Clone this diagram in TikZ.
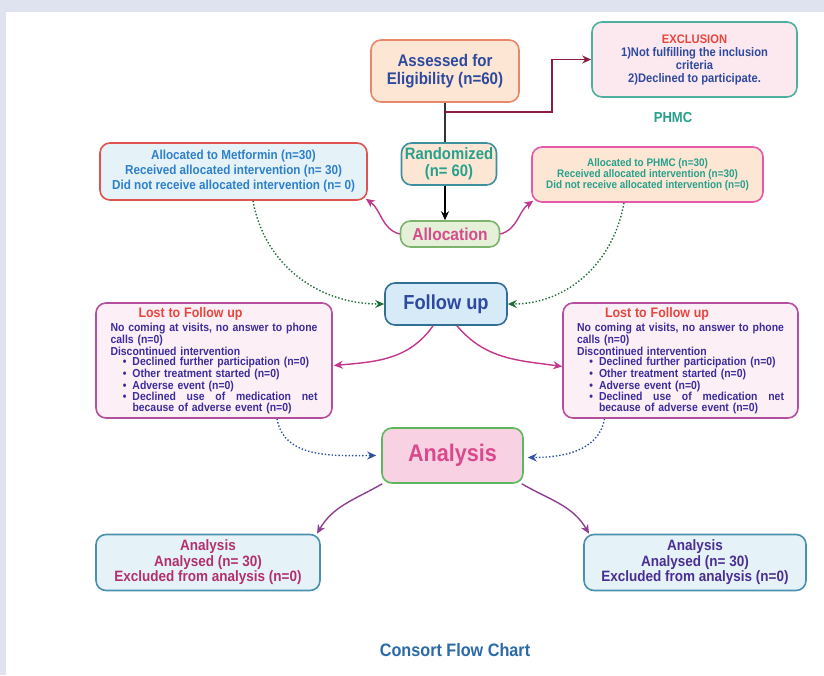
\documentclass[tikz,border=0pt]{standalone}
\usepackage{fontspec}
\setmainfont{Liberation Sans}[FakeStretch=0.9]
\usetikzlibrary{arrows.meta,calc}
\definecolor{bgl}{HTML}{DFE3EF}
\definecolor{peach}{HTML}{FDE6D3}
\definecolor{salmon}{HTML}{E8876B}
\definecolor{dblue}{HTML}{2E4A9E}
\definecolor{exfill}{HTML}{FCE8EF}
\definecolor{teal}{HTML}{4FB0A0}
\definecolor{redt}{HTML}{E8453C}
\definecolor{tealt}{HTML}{27A08C}
\definecolor{dred}{HTML}{8C1D40}
\definecolor{gfill}{HTML}{E4F1D8}
\definecolor{gborder}{HTML}{7DB46C}
\definecolor{pinkt}{HTML}{D9498D}
\definecolor{bfill}{HTML}{E5F2F8}
\definecolor{rborder}{HTML}{E0524F}
\definecolor{bluet}{HTML}{2E80CC}
\definecolor{pborder}{HTML}{E45AA8}
\definecolor{ffill}{HTML}{D6EAF8}
\definecolor{fborder}{HTML}{336F92}
\definecolor{lfill}{HTML}{FCF0F6}
\definecolor{lborder}{HTML}{B44F9F}
\definecolor{indigo}{HTML}{3D2C9E}
\definecolor{afill}{HTML}{F8D2E2}
\definecolor{aborder}{HTML}{5CB85C}
\definecolor{resborder}{HTML}{4A90B0}
\definecolor{resL}{HTML}{B3306E}
\definecolor{resR}{HTML}{4B2E92}
\definecolor{magenta}{HTML}{C2378B}
\definecolor{purp}{HTML}{8F3F93}
\definecolor{dgreen}{HTML}{1F6E3A}
\definecolor{dotblue}{HTML}{2D50A3}
\definecolor{titleblue}{HTML}{2B6AA8}
\definecolor{randb}{HTML}{3F8FA0}
\newcommand\lbul{\makebox[22pt][r]{\textbullet\hspace{6pt}}}
\newcommand\lostbody{%
\hspace*{28pt}{\color{redt}\fontsize{13.8}{12}\selectfont Lost to Follow up}\\[2pt]
\leavevmode\hbox to 207pt{No\hfil coming\hfil at\hfil visits,\hfil no\hfil answer\hfil to\hfil phone}\\
calls (n=0)\\
Discontinued intervention\\
\lbul Declined further participation (n=0)\\
\lbul Other treatment started (n=0)\\
\lbul Adverse event (n=0)\\
\lbul\hbox to 185pt{Declined\hfil use\hfil of\hfil medication\hfil net}\\
\hspace*{22pt}because of adverse event (n=0)}
\begin{document}
\begin{tikzpicture}[x=1pt,y=-1pt,
  box/.style={draw, rounded corners=10pt, line width=1.6pt, align=center, inner sep=0pt, font=\bfseries},
  lostbox/.style={box, fill=lfill, draw=lborder, text width=207pt, minimum height=115pt, align=left, text=indigo, font=\bfseries\fontsize{11.6}{10.5}\selectfont},
  resbox/.style={box, fill=bfill, draw=resborder, minimum height=56pt, font=\bfseries\fontsize{15}{15.5}\selectfont},
  tip/.style={-{Stealth[length=9pt,width=8pt]}},
  curv/.style={line width=1.4pt, tip},
  dotarr/.style={line width=1.4pt, dotted, tip}
]
\fill[bgl] (0,0) rectangle (824,675);
\fill[white] (6,12) rectangle (824,675);
\useasboundingbox (0,0) rectangle (824,675);

\node[box, fill=peach, draw=salmon, text=dblue, minimum width=148pt, minimum height=62pt,
  font=\bfseries\fontsize{16.8}{18}\selectfont] (assess) at (445,71) {Assessed for\\Eligibility (n=60)};
\node[box, fill=exfill, draw=teal, text=dblue, minimum width=205pt, minimum height=75pt,
  font=\bfseries\fontsize{12.4}{13}\selectfont] (excl) at (694.5,59.5)
  {{\color{redt}EXCLUSION}\\1)Not fulfilling the inclusion\\criteria\\2)Declined to participate.};
\node[text=tealt, font=\bfseries\fontsize{14.5}{15}\selectfont] (phmclab) at (673,118) {PHMC};

\node[box, fill=peach, draw=randb, text=tealt, minimum width=95pt, minimum height=42pt,
  font=\bfseries\fontsize{16.5}{17}\selectfont] (rand) at (449,164) {Randomized\\(n= 60)};
\node[box, fill=gfill, draw=gborder, text=pinkt, minimum width=99pt, minimum height=26pt,
  font=\bfseries\fontsize{17.3}{18}\selectfont] (alloc) at (450,234) {Allocation};

\node[box, fill=bfill, draw=rborder, text=bluet, minimum width=267pt, minimum height=57pt,
  font=\bfseries\fontsize{13}{15}\selectfont] (metf) at (233.5,171.5)
  {Allocated to Metformin (n=30)\\Received allocated intervention (n= 30)\\Did not receive allocated intervention (n= 0)};
\node[box, fill=peach, draw=pborder, text=tealt, minimum width=231pt, minimum height=55pt,
  font=\bfseries\fontsize{11}{11}\selectfont] (phmcbox) at (647.5,174.5)
  {Allocated to PHMC (n=30)\\Received allocated intervention (n=30)\\Did not receive allocated intervention (n=0)};

\node[box, fill=ffill, draw=fborder, text=dblue, minimum width=122pt, minimum height=42pt,
  font=\bfseries\fontsize{20.3}{22}\selectfont] (follow) at (446,304) {Follow up};

\node[lostbox, inner xsep=14.5pt] (lostL) at (214,360.5) {\lostbody};
\node[lostbox, inner xsep=14pt] (lostR) at (680.5,360.5) {\lostbody};

\node[box, fill=afill, draw=aborder, text=pinkt, minimum width=141pt, minimum height=55pt,
  font=\bfseries\fontsize{24}{26}\selectfont] (analysis) at (452.5,455.5) {Analysis};

\node[resbox, text=resL, minimum width=224pt] (resLbox) at (208,562.5)
  {Analysis\\Analysed (n= 30)\\Excluded from analysis (n=0)};
\node[resbox, text=resR, minimum width=222pt] (resRbox) at (695,562.5)
  {Analysis\\Analysed (n= 30)\\Excluded from analysis (n=0)};

\node[text=titleblue, font=\bfseries\fontsize{18}{20}\selectfont] (title) at (455,650) {Consort Flow Chart};

% connectors
\draw[line width=1.4pt, black!80] (assess.south) -- (assess.south |- rand.north);
\coordinate (branch) at (445,112);
\coordinate (bend) at (552,112);
\draw[line width=1.8pt, dred, tip] (branch) -- (bend) |- (excl.west);
\draw[line width=1.4pt, black, tip] (rand.south -| assess.south) -- (alloc.north -| assess.south);

\draw[curv, magenta] (alloc.west) to[out=165, in=-35] ($(metf.south east)+(-2,-2)$);
\draw[curv, magenta] (alloc.east) to[out=15, in=215] ($(phmcbox.south west)+(2,-2)$);

\draw[dotarr, dgreen] ($(metf.south)+(19.5,0)$) to[out=-80, in=180] (follow.west);
\draw[dotarr, dgreen] ($(phmcbox.south)+(-23.5,0)$) to[out=-100, in=0] (follow.east);

\draw[curv, magenta] ($(follow.south)+(-13,0)$) to[out=-125, in=5] ($(lostL.east)+(1,5)$);
\draw[curv, magenta] ($(follow.south)+(11,0)$) to[out=-50, in=172] ($(lostR.west)+(0,6)$);

\draw[dotarr, dotblue] ($(lostL.south)+(63,0)$) to[out=-80, in=180] ($(analysis.west)+(-5,0)$);
\draw[dotarr, dotblue] ($(lostR.south)+(-76,0)$) to[out=-100, in=0] ($(analysis.east)+(4,2)$);

\draw[curv, purp] ($(analysis.south west)+(1,0)$) to[out=-150, in=60] ($(resLbox.north)+(109,0)$);
\draw[curv, purp] ($(analysis.south east)+(-2,0)$) to[out=-30, in=120] ($(resRbox.north)+(-106,0)$);
\end{tikzpicture}
\end{document}
